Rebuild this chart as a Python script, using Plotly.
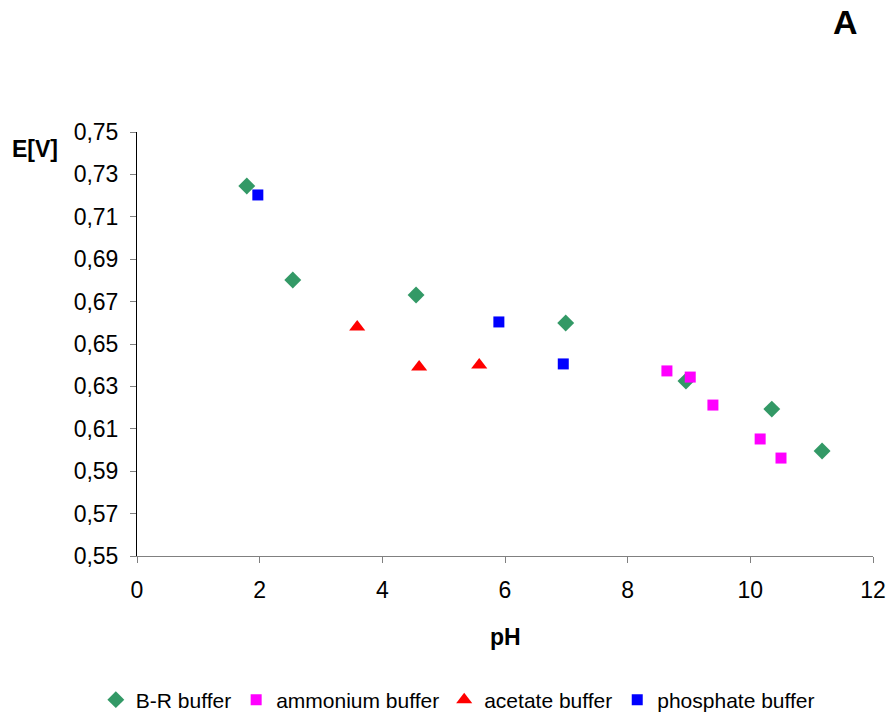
import plotly.graph_objects as go

br_ph = [1.79, 2.54, 4.55, 6.99, 8.95, 10.35, 11.17]
br_e = [0.7245, 0.6802, 0.6731, 0.6599, 0.6325, 0.6193, 0.5995]
amm_ph = [8.64, 9.02, 9.39, 10.16, 10.50]
amm_e = [0.6373, 0.6344, 0.6212, 0.6052, 0.5962]
ace_ph = [3.59, 4.60, 5.58]
ace_e = [0.658, 0.6392, 0.6401]
pho_ph = [1.97, 5.90, 6.95]
pho_e = [0.7203, 0.6604, 0.6406]

y_ticks = [0.55, 0.57, 0.59, 0.61, 0.63, 0.65, 0.67, 0.69, 0.71, 0.73, 0.75]
x_ticks = [0, 2, 4, 6, 8, 10, 12]

FONT = "Liberation Sans, Arial, sans-serif"

fig = go.Figure()
fig.add_trace(go.Scatter(x=br_ph, y=br_e, mode="markers", name="B-R buffer",
                         marker=dict(symbol="diamond", size=13, color="#339966")))
fig.add_trace(go.Scatter(x=amm_ph, y=amm_e, mode="markers", name="ammonium buffer",
                         marker=dict(symbol="square", size=11, color="#FF00FF")))
fig.add_trace(go.Scatter(x=ace_ph, y=ace_e, mode="markers", name="acetate buffer",
                         marker=dict(symbol="triangle-up", size=14, color="#FF0000")))
fig.add_trace(go.Scatter(x=pho_ph, y=pho_e, mode="markers", name="phosphate buffer",
                         marker=dict(symbol="square", size=11, color="#0000FF")))

fig.update_layout(
    width=889, height=717,
    margin=dict(l=137, r=16, t=132, b=161),
    paper_bgcolor="white", plot_bgcolor="white",
    separators=", ",
    font=dict(family=FONT, size=23, color="black"),
    showlegend=True,
    legend=dict(orientation="h", xref="container", yref="container",
                x=0.515, y=1 - 700/717, xanchor="center", yanchor="middle",
                font=dict(size=21), itemwidth=30, tracegroupgap=0),
    xaxis=dict(range=[0, 12], tickvals=x_ticks, ticks="outside", ticklen=6,
               tickcolor="#808080", showline=True, linecolor="#808080", linewidth=1,
               showgrid=False, zeroline=False, tickfont=dict(size=23),
               automargin=False, ticklabelstandoff=7),
    yaxis=dict(range=[0.55, 0.75], tickvals=y_ticks, tickformat=".2f",
               ticks="outside", ticklen=6, tickcolor="#808080",
               showline=True, linecolor="black", linewidth=1,
               showgrid=False, zeroline=False, tickfont=dict(size=23),
               automargin=False, ticklabelstandoff=7),
    annotations=[
        dict(text="<b>E[V]</b>", xref="paper", yref="paper", x=-0.1046, y=0.96,
             xanchor="right", yanchor="middle", showarrow=False, font=dict(size=23)),
        dict(text="<b>pH</b>", xref="paper", yref="paper", x=0.5, y=-0.19,
             xanchor="center", yanchor="middle", showarrow=False, font=dict(size=23)),
        dict(text="<b>A</b>", xref="paper", yref="paper", x=0.962, y=1.259,
             xanchor="center", yanchor="middle", showarrow=False,
             font=dict(size=34)),
    ],
)
fig.write_html("out.html")
